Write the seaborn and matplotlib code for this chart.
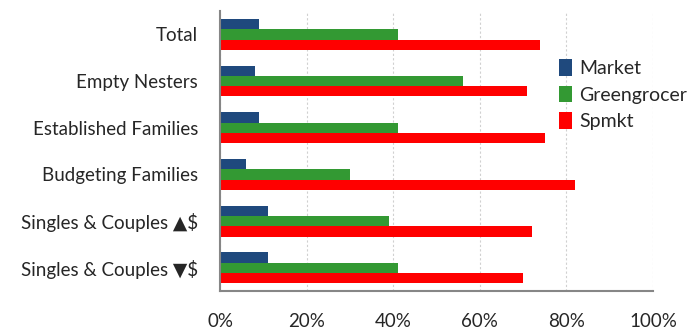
import matplotlib
matplotlib.use("Agg")
import matplotlib.pyplot as plt
import seaborn as sns
import pandas as pd
from matplotlib.ticker import FuncFormatter

categories = ["Total", "Empty Nesters", "Established Families", "Budgeting Families",
              "Singles & Couples \u25b2$", "Singles & Couples \u25bc$"]
market = [0.09, 0.08, 0.09, 0.06, 0.11, 0.11]
greengrocer = [0.41, 0.56, 0.41, 0.30, 0.39, 0.41]
spmkt = [0.74, 0.71, 0.75, 0.82, 0.72, 0.70]
series = ["Market", "Greengrocer", "Spmkt"]
colors = ["#1F497D", "#339933", "#FF0000"]
xticks = [0, 0.2, 0.4, 0.6, 0.8, 1.0]

rows = []
for name, vals in zip(series, [market, greengrocer, spmkt]):
    for c, v in zip(categories, vals):
        rows.append({"cat": c, "series": name, "value": v})
df = pd.DataFrame(rows)

sns.set_style("white")
plt.rcParams['font.family'] = ['Lato', 'DejaVu Sans']

fig = plt.figure(figsize=(6.88, 3.35), dpi=100)
ax = fig.add_axes([0.32, 0.131, 0.629, 0.836])
sns.barplot(data=df, y="cat", x="value", hue="series", order=categories,
            hue_order=series, palette=colors, orient="h", width=0.66,
            ax=ax, saturation=1, edgecolor="none")

ax.set_xlim(0, 1.0)
ax.set_xticks(xticks)
ax.xaxis.set_major_formatter(FuncFormatter(lambda v, p: f"{int(round(v*100))}%"))
ax.set_xlabel("")
ax.set_ylabel("")
ax.grid(axis="x", color="#D0D0D0", linestyle=(0, (2, 2)), linewidth=0.8)
ax.set_axisbelow(True)
for s in ["top", "right"]:
    ax.spines[s].set_visible(False)
for s in ["left", "bottom"]:
    ax.spines[s].set_color("#868686")
    ax.spines[s].set_linewidth(1.5)
ax.tick_params(axis="x", length=0, pad=16, labelsize=13.5)
ax.tick_params(axis="y", length=0, pad=16, labelsize=13.5)
ax.set_ylim(len(categories) - 0.5, -0.5)

leg = ax.legend(loc="upper left", bbox_to_anchor=(0.765, 0.855), frameon=False,
                fontsize=14, handlelength=0.65, handleheight=0.9,
                handletextpad=0.4, labelspacing=0.45, borderaxespad=0)

fig.savefig("out.png", dpi=100)
